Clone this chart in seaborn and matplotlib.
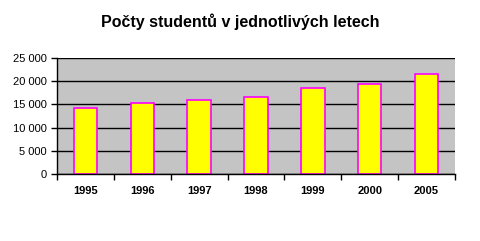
import matplotlib
matplotlib.use("Agg")
import matplotlib.pyplot as plt
import seaborn as sns
import pandas as pd
import numpy as np
from matplotlib.ticker import FuncFormatter, FixedLocator

years = ["1995", "1996", "1997", "1998", "1999", "2000", "2005"]
students = [14200, 15300, 16000, 16600, 18500, 19400, 21550]
title = "Počty studentů v jednotlivých letech"

sns.set_style("white")
plt.rcParams['font.family'] = ['Liberation Sans', 'DejaVu Sans']
plt.rcParams['text.color'] = 'black'
plt.rcParams['xtick.color'] = 'black'
plt.rcParams['ytick.color'] = 'black'
plt.rcParams['axes.labelcolor'] = 'black'

df = pd.DataFrame({"rok": years, "studenti": students})

fig = plt.figure(figsize=(4.81, 2.41), dpi=100)
ax = fig.add_axes([57/481, 1-174/241, (455-57)/481, 116/241])
ax.set_facecolor("#c4c4c4")

sns.barplot(data=df, x="rok", y="studenti", ax=ax, color="#ffff00",
            edgecolor="#ff00ff", linewidth=1.2, width=0.41, saturation=1)

ax.set_ylim(0, 25000)
ax.set_xlim(-0.5, len(years) - 0.5)
ax.set_yticks(np.arange(0, 25001, 5000))
ax.yaxis.set_major_formatter(FuncFormatter(lambda v, p: f"{int(v):,}".replace(",", " ")))
ax.yaxis.grid(True, color="black", linewidth=1)
ax.set_axisbelow(True)
ax.set_xlabel("")
ax.set_ylabel("")

for s in ["top", "right"]:
    ax.spines[s].set_visible(False)
for s in ["left", "bottom"]:
    ax.spines[s].set_color("black")
    ax.spines[s].set_linewidth(1)

ax.tick_params(axis="x", which="major", length=0, pad=9, labelsize=8, labelcolor="black")
ax.xaxis.set_minor_locator(FixedLocator(np.arange(-0.5, len(years), 1.0)))
ax.tick_params(axis="x", which="minor", length=4, width=1, color="black",
               direction="out", bottom=True)
ax.tick_params(axis="y", length=4, width=1, color="black", direction="out",
               labelsize=8, left=True, labelcolor="black")
for lbl in ax.get_xticklabels():
    lbl.set_fontweight("bold")

fig.text(240/481, 1-22/241, title, ha="center", va="center", fontsize=11.5,
         fontweight="bold", color="black")

fig.savefig("out.png", dpi=100)
